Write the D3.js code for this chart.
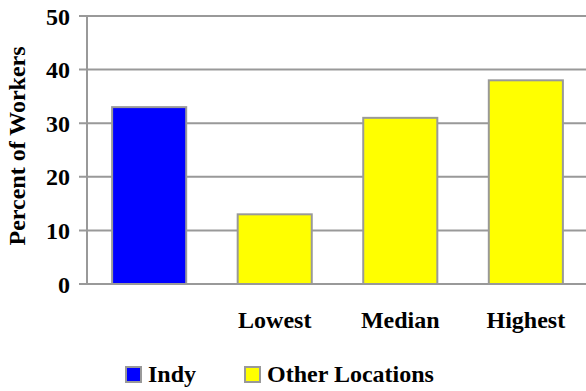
<!DOCTYPE html>
<html>
<head>
<meta charset="utf-8">
<script src="https://cdn.jsdelivr.net/npm/d3@7"></script>
<style>
  html, body { margin: 0; padding: 0; background: #fff; }
  svg { display: block; }
</style>
</head>
<body>
<script>
// Share of workers by location group
const categories = ["Indy", "Lowest", "Median", "Highest"];
const categoryLabels = ["", "Lowest", "Median", "Highest"];
const values = [33, 13, 31, 38];
const groups = ["Indy", "Other Locations", "Other Locations", "Other Locations"];
const legendItems = ["Indy", "Other Locations"];
const yTicks = [0, 10, 20, 30, 40, 50];
const yTitle = "Percent of Workers";

const W = 586, H = 391;
const colors = { "Indy": "#0000ff", "Other Locations": "#ffff00" };
const gridColor = "#999999";
const FONT = "'Liberation Serif', 'Times New Roman', Times, serif";

const svg = d3.select("body").append("svg").attr("width", W).attr("height", H)
  .style("font-family", FONT).style("font-weight", "bold");

const x = d3.scaleBand().domain(categories).range([87, 588])
  .paddingInner(0.41).paddingOuter(0.2);
const y = d3.scaleLinear().domain([0, 50]).range([284, 16]);

// horizontal gridlines with short outer ticks
svg.append("g").selectAll("line").data(yTicks).join("line")
  .attr("x1", 79).attr("x2", W)
  .attr("y1", d => y(d)).attr("y2", d => y(d))
  .attr("stroke", gridColor).attr("stroke-width", 2);

// vertical axis line
svg.append("line").attr("x1", 87).attr("x2", 87).attr("y1", y(50)).attr("y2", y(0))
  .attr("stroke", gridColor).attr("stroke-width", 2);

// tick labels
svg.append("g").selectAll("text").data(yTicks).join("text")
  .attr("font-family", FONT).attr("font-weight", "bold")
  .attr("x", 70).attr("y", d => y(d)).attr("dy", "0.36em")
  .attr("text-anchor", "end").attr("font-size", 24)
  .text(d => d);

// axis title
svg.append("text")
  .attr("font-family", FONT).attr("font-weight", "bold")
  .attr("transform", `translate(25, ${y(25) - 4}) rotate(-90)`)
  .attr("text-anchor", "middle").attr("font-size", 24)
  .text(yTitle);

// bars
svg.append("g").selectAll("rect").data(categories).join("rect")
  .attr("x", d => x(d)).attr("width", x.bandwidth())
  .attr("y", (d, i) => y(values[i])).attr("height", (d, i) => y(0) - y(values[i]))
  .attr("fill", (d, i) => colors[groups[i]])
  .attr("stroke", gridColor).attr("stroke-width", 2);

// baseline drawn over bars
svg.append("line").attr("x1", 87).attr("x2", W).attr("y1", y(0)).attr("y2", y(0))
  .attr("stroke", gridColor).attr("stroke-width", 2);

// category labels
svg.append("g").selectAll("text").data(categories).join("text")
  .attr("font-family", FONT).attr("font-weight", "bold")
  .attr("x", d => x(d) + x.bandwidth() / 2).attr("y", 328)
  .attr("text-anchor", "middle").attr("font-size", 24)
  .text((d, i) => categoryLabels[i]);

// legend
const legendX = [126, 245];
const lg = svg.append("g").selectAll("g").data(legendItems).join("g")
  .attr("transform", (d, i) => `translate(${legendX[i]}, 367)`);
lg.append("rect").attr("width", 15).attr("height", 15)
  .attr("fill", d => colors[d]).attr("stroke", gridColor).attr("stroke-width", 2);
lg.append("text")
  .attr("font-family", FONT).attr("font-weight", "bold")
  .attr("x", 22).attr("y", 15).attr("font-size", 24).text(d => d);
</script>
</body>
</html>
